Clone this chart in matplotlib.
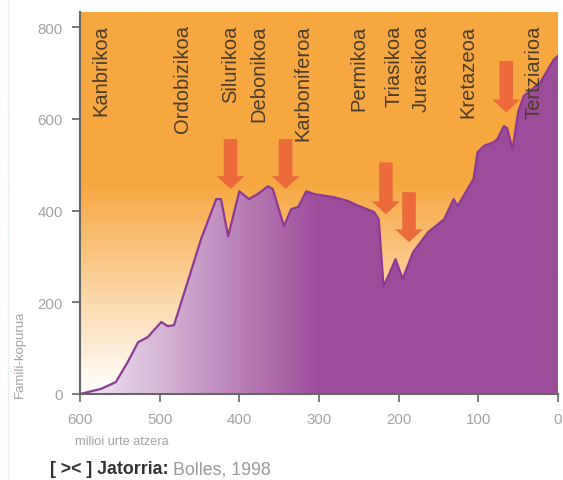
import numpy as np
import matplotlib
matplotlib.use("Agg")
import matplotlib.pyplot as plt
from matplotlib.patches import Polygon, FancyArrow
from matplotlib.lines import Line2D

plt.rcParams['font.family'] = ['Liberation Sans', 'DejaVu Sans']

# ---- data ----
age = [600, 574, 555, 540, 527, 515, 498, 490, 482, 448, 429, 423, 414, 400,
       388, 377, 364, 358, 344, 335, 326, 316, 306, 281, 264, 250, 231, 225,
       219, 211, 204, 195, 182, 163, 143, 131, 126, 106, 101, 93, 81, 76, 68,
       64, 57, 50, 43, 22, 5, 0]
families = [0, 11, 26, 70, 113, 124, 157, 148, 150, 338, 425, 425, 344, 442,
            425, 436, 453, 447, 366, 403, 408, 442, 436, 429, 421, 410, 397, 381,
            235, 265, 294, 251, 309, 353, 381, 425, 410, 469, 527, 541, 549, 556, 584,
            580, 534, 615, 650, 680, 730, 737]

period_names = ['Kanbrikoa', 'Ordobizikoa', 'Silurikoa', 'Debonikoa', 'Karboniferoa',
                'Permikoa', 'Triasikoa', 'Jurasikoa', 'Kretazeoa', 'Tertziarioa']
period_x = [574, 471, 411, 375, 320, 250, 206, 172, 113, 30]

arrow_x = [411, 342, 216, 187, 65]
arrow_top = [556, 556, 505, 440, 726]
arrow_tip = [447, 447, 392, 331, 614]

xticks = [600, 500, 400, 300, 200, 100, 0]
yticks = [0, 200, 400, 600, 800]

# ---- figure ----
W, H = 563, 481
fig = plt.figure(figsize=(W / 100, H / 100), dpi=100)
ax = fig.add_axes([80 / W, 1 - 395 / H, (558 - 80) / W, (395 - 13) / H])
XMAX, XMIN, YMAX = 600, 0, 833
ax.set_xlim(XMAX, XMIN)
ax.set_ylim(0, YMAX)

# background vertical gradient (white bottom -> orange top)
orange = np.array([247, 167, 64]) / 255
white = np.array([255, 252, 248]) / 255
yy = np.linspace(0, YMAX, 400)
t = np.clip((yy - 20) / 440, 0, 1)
bg = white[None, :] * (1 - t[:, None]) + orange[None, :] * t[:, None]
bg = np.repeat(bg[:, None, :], 2, axis=1)
ax.imshow(bg, extent=[XMAX, XMIN, 0, YMAX], origin='lower', aspect='auto',
          zorder=0, interpolation='bilinear')

# purple area with horizontal gradient
light = np.array([243, 234, 245]) / 255
dark = np.array([156, 77, 154]) / 255
xx = np.linspace(XMAX, XMIN, 400)
s = np.clip((XMAX - xx) / 300, 0, 1)
pg = light[None, :] * (1 - s[:, None]) + dark[None, :] * s[:, None]
pg = np.repeat(pg[None, :, :], 2, axis=0)
im = ax.imshow(pg, extent=[XMAX, XMIN, 0, YMAX], origin='lower', aspect='auto',
               zorder=1, interpolation='bilinear')
verts = list(zip(age, families)) + [(age[-1], 0), (age[0], 0)]
poly = Polygon(verts, closed=True, facecolor='none', edgecolor='none',
               transform=ax.transData)
ax.add_patch(poly)
im.set_clip_path(poly)
ax.plot(age, families, color='#8B3A95', lw=1.6, zorder=2, solid_joinstyle='round')

# arrows
for x, y0, y1 in zip(arrow_x, arrow_top, arrow_tip):
    ax.add_patch(FancyArrow(x, y0, 0, y1 - y0, width=17, head_width=35,
                            head_length=28, length_includes_head=True,
                            color='#EB6B3A', lw=0, zorder=3))

# period labels
for name, x in zip(period_names, period_x):
    ax.text(x, 806, name, rotation=90, ha='center', va='top', fontsize=14.5,
            color='#4a3d2c', zorder=4)

# axes styling
ax.set_xticks(xticks)
ax.set_yticks(yticks)
for sp in ['top', 'right']:
    ax.spines[sp].set_visible(False)
for sp in ['left', 'bottom']:
    ax.spines[sp].set_color('#666666')
    ax.spines[sp].set_linewidth(1.5)
    ax.spines[sp].set_zorder(5)
ax.tick_params(direction='out', length=6, width=1.2, color='#666666',
               labelcolor='#a3a3a3', labelsize=10.8)
ax.tick_params(axis='y', pad=6.5)
ax.tick_params(axis='x', pad=7)

fig.text(20 / W, 1 - 354 / H, 'Famili-kopurua', rotation=90, ha='center',
         va='center', fontsize=9.5, color='#a3a3a3')
fig.text(75 / W, 1 - 442 / H, 'milioi urte atzera', ha='left', va='center',
         fontsize=9.2, color='#a3a3a3')

t1 = fig.text(50 / W, 1 - 470 / H, '[ >< ] Jatorria:', ha='left', va='center',
              fontsize=12.8, fontweight='bold', color='#333333')
fig.canvas.draw()
ax.annotate('Bolles, 1998', xy=(1, 0), xycoords=t1, xytext=(3, 0),
            textcoords='offset points', ha='left', va='bottom', fontsize=12.8,
            color='#9a9a9a', annotation_clip=False)

fig.add_artist(Line2D([8 / W, 8 / W], [0, 1], color='#d5e6d5', lw=1,
                      linestyle=(0, (1, 1))))

fig.savefig('out.png', dpi=100)
